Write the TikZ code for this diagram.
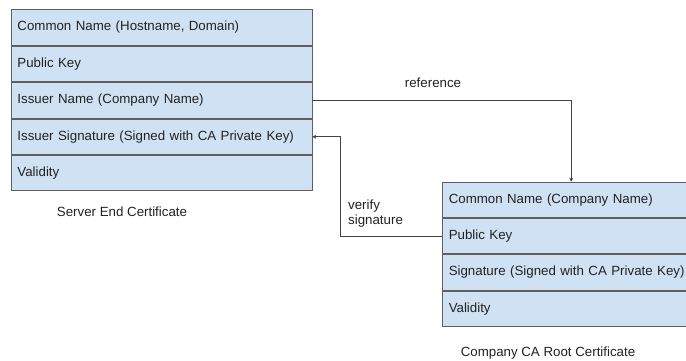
\documentclass[tikz,border=0pt]{standalone}
\usepackage{fontspec}
\setmainfont{Liberation Sans}
\usetikzlibrary{arrows.meta,calc}
\definecolor{boxfill}{HTML}{CFE2F3}
\definecolor{boxline}{HTML}{5F5F5F}
\definecolor{linecol}{HTML}{444444}
\definecolor{txtcol}{HTML}{222222}
\begin{document}
\begin{tikzpicture}[x=1pt,y=-1pt,
  every node/.style={font=\fontsize{13.3}{16}\selectfont, text=txtcol},
  rowL/.style={draw=boxline, line width=0.9pt, fill=boxfill, anchor=north west,
    minimum height=35.5pt, text width=288.5pt, inner xsep=6pt, inner ysep=0pt, align=left},
  rowR/.style={draw=boxline, line width=0.9pt, fill=boxfill, anchor=north west,
    minimum height=35.4pt, text width=244.8pt, inner xsep=6pt, inner ysep=0pt, align=left},
  conn/.style={draw=linecol, line width=0.8pt, -{Stealth[length=4pt,width=4pt]}},
  lbl/.style={inner sep=0pt}
]
\useasboundingbox (0,0) rectangle (686,360);
\clip (0,0) rectangle (686,360);
\fill[white] (0,0) rectangle (686,360);

% Server End Certificate
\node[rowL] (l1) at (11,9.3) {Common Name (Hostname, Domain)};
\node[rowL] (l2) at (l1.south west) {Public Key};
\node[rowL] (l3) at (l2.south west) {Issuer Name (Company Name)};
\node[rowL] (l4) at (l3.south west) {Issuer Signature (Signed with CA Private Key)};
\node[rowL] (l5) at (l4.south west) {Validity};
\node[lbl] (capL) at (122,212) {Server End Certificate};

% Company CA Root Certificate
\node[rowR] (r1) at (442.3,181.7) {Common Name (Company Name)};
\node[rowR] (r2) at (r1.south west) {Public Key};
\node[rowR] (r3) at (r2.south west) {Signature (Signed with CA Private Key)};
\node[rowR] (r4) at (r3.south west) {Validity};
\node[lbl] (capR) at (548,353) {Company CA Root Certificate};

% connectors
\draw[conn] (l3.east) -| (r1.north);
\node[lbl] (refl) at (433,83) {reference};

\coordinate (vx) at (340,0);
\draw[conn] (r2.west) -- (r2.west -| vx) |- (l4.east);
\node[lbl, anchor=west, align=left] (verl) at (348,213.5) {verify\\[-1.5pt]signature};
\end{tikzpicture}
\end{document}
